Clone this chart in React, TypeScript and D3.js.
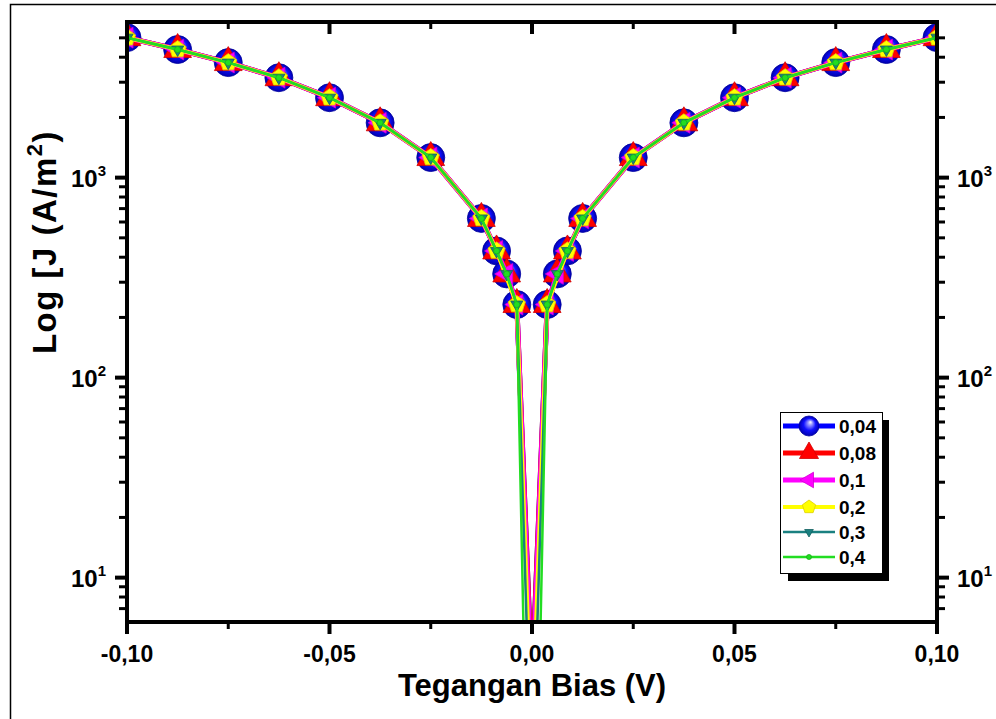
import React from "react";
import * as d3 from "d3";

// Bias voltage (V)
const voltage = [
  -0.1, -0.0875, -0.075, -0.0625, -0.05, -0.0375, -0.025, -0.0125, -0.00875, -0.00625, -0.00375,
  0,
  0.00375, 0.00625, 0.00875, 0.0125, 0.025, 0.0375, 0.05, 0.0625, 0.075, 0.0875, 0.1,
];

// Current density J (A/m^2) per series
const j004 = [5010, 4370, 3760, 3160, 2510, 1880, 1260, 625, 430, 330, 232, 3, 232, 330, 430, 625, 1260, 1880, 2510, 3160, 3760, 4370, 5010];
const j008 = [5010, 4370, 3760, 3160, 2510, 1880, 1260, 625, 430, 330, 232, 3, 232, 330, 430, 625, 1260, 1880, 2510, 3160, 3760, 4370, 5010];
const j01 = [5010, 4370, 3760, 3160, 2510, 1880, 1260, 625, 430, 330, 232, 2.5, 232, 330, 430, 625, 1260, 1880, 2510, 3160, 3760, 4370, 5010];
const j02 = [5010, 4370, 3760, 3160, 2510, 1880, 1260, 625, 430, null, 232, 1.5, 232, null, 430, 625, 1260, 1880, 2510, 3160, 3760, 4370, 5010];
const j03 = [5010, 4370, 3760, 3160, 2510, 1880, 1260, 625, 430, 330, 232, 0.8, 232, 330, 430, 625, 1260, 1880, 2510, 3160, 3760, 4370, 5010];
const j04 = [5010, 4370, 3760, 3160, 2510, 1880, 1260, 625, 430, 330, 232, 0.05, 232, 330, 430, 625, 1260, 1880, 2510, 3160, 3760, 4370, 5010];

const seriesNames = ["0,04", "0,08", "0,1", "0,2", "0,3", "0,4"];
const seriesValues = [j004, j008, j01, j02, j03, j04];

const xMajorTicks = [-0.1, -0.05, 0, 0.05, 0.1];
const xMinorTicks = [-0.075, -0.025, 0.025, 0.075];
const yMajorTicks = [10, 100, 1000];
const yExponents = ["1", "2", "3"];

type Style = {
  color: string;
  lineWidth: number;
  shape: string;
  size: number;
  legendSize: number;
  fill: string;
  stroke: string;
};

const styles: Style[] = [
  { color: "#0000ff", lineWidth: 5, shape: "sphere", size: 14, legendSize: 10, fill: "url(#sphere)", stroke: "#0000a0" },
  { color: "#ff0000", lineWidth: 5, shape: "triUp", size: 16, legendSize: 11, fill: "#ff0000", stroke: "#d00000" },
  { color: "#ff00ff", lineWidth: 5, shape: "triLeft", size: 12, legendSize: 9, fill: "#ff00ff", stroke: "#d000d0" },
  { color: "#ffff00", lineWidth: 4, shape: "pentagon", size: 9, legendSize: 7, fill: "#ffff00", stroke: "#e0d000" },
  { color: "#1a8080", lineWidth: 2.5, shape: "triDown", size: 7, legendSize: 5, fill: "#1a8080", stroke: "#106060" },
  { color: "#22dd22", lineWidth: 2.5, shape: "dot", size: 3, legendSize: 2.5, fill: "#22dd22", stroke: "#18b018" },
];

const W = 996;
const H = 719;
const L = 127, R = 937, T = 22, B = 622;

const FONT = "Arial, 'Liberation Sans', Helvetica, sans-serif";

function polygon(cx: number, cy: number, r: number, startDeg: number, n: number) {
  const pts: string[] = [];
  for (let i = 0; i < n; i++) {
    const a = ((startDeg + (360 / n) * i) * Math.PI) / 180;
    pts.push(`${(cx + r * Math.cos(a)).toFixed(2)},${(cy + r * Math.sin(a)).toFixed(2)}`);
  }
  return "M" + pts.join("L") + "Z";
}

function Marker({ s, cx, cy, r }: { s: Style; cx: number; cy: number; r: number }) {
  if (s.shape === "sphere" || s.shape === "dot") {
    return <circle cx={cx} cy={cy} r={r} fill={s.fill} stroke={s.stroke} strokeWidth={0.8} />;
  }
  let d = "";
  if (s.shape === "triUp") d = polygon(cx, cy, r, -90, 3);
  if (s.shape === "triLeft") d = polygon(cx, cy, r, 180, 3);
  if (s.shape === "triDown") d = polygon(cx, cy, r, 90, 3);
  if (s.shape === "pentagon") d = polygon(cx, cy, r, -90, 5);
  return <path d={d} fill={s.fill} stroke={s.stroke} strokeWidth={0.8} />;
}

const fmtX = (v: number) => d3.format(".2f")(v).replace("\u2212", "-").replace(".", ",");

export default function App() {
  const x = d3.scaleLinear().domain([-0.1, 0.1]).range([L, R]);
  const y = d3.scaleLog().domain([6, 6000]).range([B, T]);

  const yMinor: number[] = [];
  [1, 10, 100, 1000].forEach((p) => {
    for (let k = 2; k <= 9; k++) {
      const v = k * p;
      if (v > 6 && v < 6000 && !yMajorTicks.includes(v)) yMinor.push(v);
    }
  });

  const line = d3
    .line<[number, number]>()
    .x((d) => x(d[0]))
    .y((d) => y(d[1]))
    .curve(d3.curveLinear);

  const legendRows = [426, 453, 480, 507, 532, 557];

  return (
    <svg
      width={W}
      height={H}
      style={{ position: "absolute", left: 0, top: 0, display: "block" }}
      fontFamily={FONT}
    >
      <defs>
        <radialGradient id="sphere" cx="0.5" cy="0.5" r="0.5" fx="0.58" fy="0.3">
          <stop offset="0" stopColor="#ffffff" />
          <stop offset="0.22" stopColor="#9a9aff" />
          <stop offset="0.6" stopColor="#1010ff" />
          <stop offset="1" stopColor="#0000b0" />
        </radialGradient>
        <clipPath id="plotClip">
          <rect x={L} y={T} width={R - L} height={B - T} />
        </clipPath>
      </defs>
      <rect x={0} y={0} width={W} height={H} fill="#ffffff" />
      <rect x={10.5} y={4.5} width={W + 10} height={H + 10} fill="none" stroke="#000" strokeWidth={1.5} />

      {/* series */}
      <g clipPath="url(#plotClip)">
        {seriesValues.map((vals, si) => {
          const s = styles[si];
          const pts: [number, number][] = [];
          vals.forEach((v, i) => {
            if (v !== null && v !== undefined) pts.push([voltage[i], v as number]);
          });
          return (
            <g key={si}>
              <path d={line(pts) || ""} fill="none" stroke={s.color} strokeWidth={s.lineWidth} strokeLinejoin="round" />
              {pts.map((p, i) => (
                <Marker key={i} s={s} cx={x(p[0])} cy={y(p[1])} r={s.size} />
              ))}
            </g>
          );
        })}
      </g>

      {/* axes frame */}
      <rect x={L} y={T} width={R - L} height={B - T} fill="none" stroke="#000" strokeWidth={4} />

      {/* x ticks */}
      {xMajorTicks.map((t) => (
        <g key={"xM" + t}>
          <line x1={x(t)} x2={x(t)} y1={B} y2={B + 12} stroke="#000" strokeWidth={4} />
          <line x1={x(t)} x2={x(t)} y1={T} y2={T + 12} stroke="#000" strokeWidth={4} />
          <text x={x(t)} y={B + 40} textAnchor="middle" fontSize={23} fontWeight="bold">
            {fmtX(t)}
          </text>
        </g>
      ))}
      {xMinorTicks.map((t) => (
        <g key={"xm" + t}>
          <line x1={x(t)} x2={x(t)} y1={B} y2={B + 7} stroke="#000" strokeWidth={3} />
          <line x1={x(t)} x2={x(t)} y1={T} y2={T + 7} stroke="#000" strokeWidth={3} />
        </g>
      ))}

      {/* y ticks */}
      {yMajorTicks.map((t, i) => (
        <g key={"yM" + t}>
          <line x1={L} x2={L - 12} y1={y(t)} y2={y(t)} stroke="#000" strokeWidth={4} />
          <line x1={R} x2={R + 12} y1={y(t)} y2={y(t)} stroke="#000" strokeWidth={4} />
          <text x={71} y={y(t) + 9} fontSize={24} fontWeight="bold">
            10
            <tspan fontSize={15} dy={-11}>
              {yExponents[i]}
            </tspan>
          </text>
          <text x={957} y={y(t) + 9} fontSize={24} fontWeight="bold">
            10
            <tspan fontSize={15} dy={-11}>
              {yExponents[i]}
            </tspan>
          </text>
        </g>
      ))}
      {yMinor.map((t) => (
        <g key={"ym" + t}>
          <line x1={L} x2={L - 8} y1={y(t)} y2={y(t)} stroke="#000" strokeWidth={3} />
          <line x1={R} x2={R + 8} y1={y(t)} y2={y(t)} stroke="#000" strokeWidth={3} />
        </g>
      ))}

      {/* axis titles */}
      <text x={(L + R) / 2} y={696} textAnchor="middle" fontSize={31} fontWeight="bold">
        Tegangan Bias (V)
      </text>
      <text
        transform={`translate(56, 242) rotate(-90)`}
        textAnchor="middle"
        fontSize={33}
        fontWeight="bold"
        letterSpacing={1.5}
      >
        Log [J (A/m
        <tspan fontSize={22} dy={-14}>
          2
        </tspan>
        <tspan dy={14}>)</tspan>
      </text>

      {/* legend */}
      <rect x={788} y={420} width={101} height={161} fill="#000" />
      <rect x={780.5} y={412.5} width={102} height={161} fill="#fff" stroke="#000" strokeWidth={1} />
      {seriesNames.map((name, i) => {
        const s = styles[i];
        const ly = legendRows[i];
        return (
          <g key={name}>
            <line x1={783} x2={835} y1={ly} y2={ly} stroke={s.color} strokeWidth={s.lineWidth} />
            <Marker s={s} cx={809} cy={ly} r={s.legendSize} />
            <text x={839} y={ly + 7} fontSize={19} fontWeight="bold">
              {name}
            </text>
          </g>
        );
      })}
    </svg>
  );
}
